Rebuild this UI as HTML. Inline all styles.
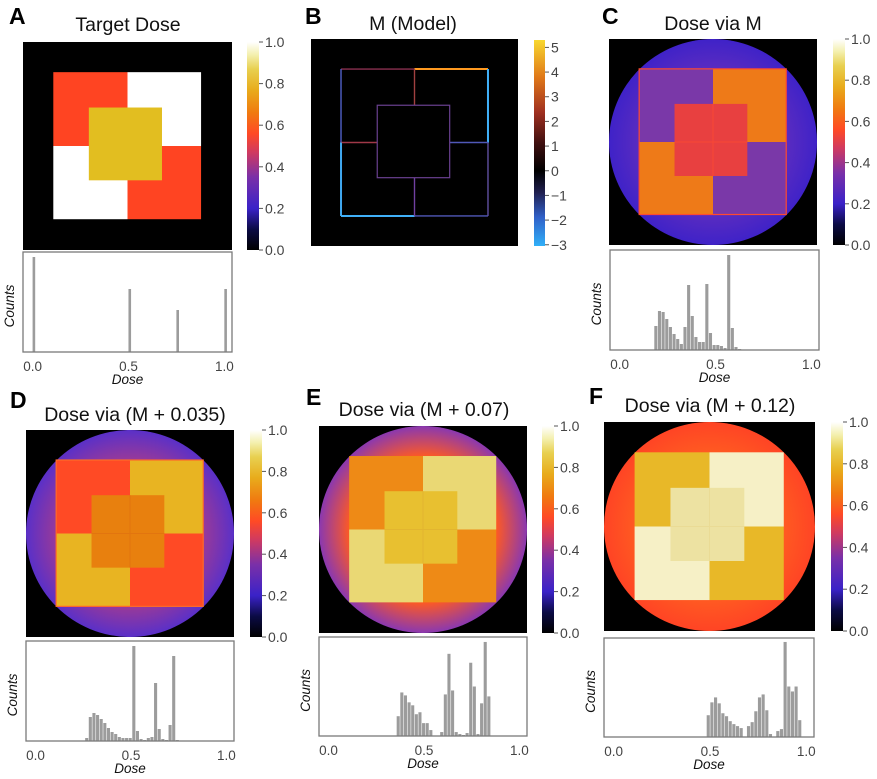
<!DOCTYPE html>
<html><head><meta charset="utf-8"><style>
html,body{margin:0;padding:0;background:#fff;}
svg{display:block;font-family:"Liberation Sans",sans-serif;}
</style></head>
<body>
<svg id="fig" width="877" height="779" viewBox="0 0 877 779" xmlns="http://www.w3.org/2000/svg">
<defs>
<linearGradient id="cmapDose" x1="0" y1="1" x2="0" y2="0">
<stop offset="0" stop-color="#000000"/><stop offset="0.1" stop-color="#0b0b45"/>
<stop offset="0.2" stop-color="#3a22c8"/><stop offset="0.35" stop-color="#7a30a8"/>
<stop offset="0.47" stop-color="#d03a60"/><stop offset="0.56" stop-color="#ff4a25"/>
<stop offset="0.66" stop-color="#f07a10"/><stop offset="0.77" stop-color="#e8ac1c"/>
<stop offset="0.87" stop-color="#e8d050"/><stop offset="0.94" stop-color="#f4f0b0"/>
<stop offset="1" stop-color="#ffffff"/></linearGradient>
<linearGradient id="cmapM" x1="0" y1="1" x2="0" y2="0">
<stop offset="0" stop-color="#30b0f8"/><stop offset="0.14" stop-color="#3060c8"/>
<stop offset="0.26" stop-color="#202050"/><stop offset="0.365" stop-color="#000000"/>
<stop offset="0.5" stop-color="#401010"/><stop offset="0.65" stop-color="#a03020"/>
<stop offset="0.82" stop-color="#e07818"/><stop offset="1" stop-color="#f8d830"/></linearGradient>
<radialGradient id="rimC" cx="0.5" cy="0.5" r="0.5"><stop offset="0.7" stop-color="#5a2cc0"/><stop offset="1" stop-color="#3f22c8"/></radialGradient>
<radialGradient id="rimD" cx="0.5" cy="0.5" r="0.5"><stop offset="0.7" stop-color="#9a3a98"/><stop offset="1" stop-color="#5a30c8"/></radialGradient>
<radialGradient id="rimE" cx="0.5" cy="0.5" r="0.5"><stop offset="0.7" stop-color="#ff5a22"/><stop offset="1" stop-color="#8a38b0"/></radialGradient>
<radialGradient id="rimF" cx="0.5" cy="0.5" r="0.5"><stop offset="0.7" stop-color="#ff5a22"/><stop offset="1" stop-color="#ff4424"/></radialGradient>
</defs>
</svg>
<script>
// ---------- data ----------
const binWidth = 0.019;
const histADoses = [0.0, 0.5, 0.75, 1.0];
const histACounts = [0.95, 0.63, 0.42, 0.63];
const histCStart = 0.181;
const histCCounts = [0.24,0.39,0.38,0.31,0.23,0.16,0.11,0.06,0.23,0.65,0.34,0.13,0.08,0.08,0.66,0.17,0.05,0.05,0.04,0.02,0.95,0.22,0.03,0.01];
const histDStart = 0.26;
const histDCounts = [0.03,0.24,0.28,0.26,0.22,0.18,0.13,0.09,0.07,0.04,0.03,0.03,0.03,0.95,0.10,0.02,0.01,0.03,0.04,0.58,0.12,0.02,0.01,0.16,0.85,0.01];
const histEStart = 0.357;
const histECounts = [0.20,0.44,0.41,0.34,0.31,0.22,0.24,0.13,0.13,0.06,0.00,0.00,0.04,0.42,0.83,0.46,0.04,0.02,0.01,0.03,0.74,0.50,0.02,0.33,0.95,0.40];
const histFStart = 0.483;
const histFCounts = [0.22,0.35,0.40,0.34,0.24,0.21,0.16,0.13,0.11,0.09,0.00,0.11,0.15,0.26,0.40,0.43,0.27,0.03,0.00,0.06,0.08,0.96,0.51,0.46,0.51,0.17];
const histTicks = [0.0, 0.5, 1.0];
const histTickLabels = ["0.0","0.5","1.0"];
const doseCbTicks = [0,0.2,0.4,0.6,0.8,1.0];
const doseCbLabels = ["0.0","0.2","0.4","0.6","0.8","1.0"];
const modelCbTicks = [-3,-2,-1,0,1,2,3,4,5];
const modelCbLabels = ["\u22123","\u22122","\u22121","0","1","2","3","4","5"];

const NS = "http://www.w3.org/2000/svg";
const svg = document.getElementById("fig");
function mk(tag, attrs, parent){
  const e = document.createElementNS(NS, tag);
  for (const k in attrs) e.setAttribute(k, attrs[k]);
  (parent||svg).appendChild(e);
  return e;
}
function txt(s, attrs, parent){ const t = mk("text", attrs, parent); t.textContent = s; return t; }

const XMIN = -0.05, XMAX = 1.04;
function drawHist(name, box, starts, counts, widthDose){
  const g = mk("g", {});
  
  
  const xs = d => box.x + (d - XMIN) / (XMAX - XMIN) * box.w;
  const ys = c => box.y + box.h - c * box.h;
  for (let i = 0; i < counts.length; i++){
    const d = starts[i];
    const x0 = xs(d), x1 = xs(d + widthDose);
    const r = mk("rect", {x: x0, y: ys(counts[i]), width: Math.max(2.4, (x1 - x0) * 0.85), height: box.y + box.h - ys(counts[i]), fill: "#9c9c9c"}, g);
    
    
  }
  const fr = mk("rect", {x: box.x, y: box.y, width: box.w, height: box.h, fill: "none", stroke: "#7a7a7a", "stroke-width": 1.3}, g);
  
  
  histTicks.forEach((t, i) => {
    const l = txt(histTickLabels[i], {x: xs(t), y: box.y + box.h + 19, "text-anchor": "middle", "font-size": 13.5, fill: "#444"}, g);
    
    
  });
  const xt = txt("Dose", {x: box.x + box.w/2, y: box.y + box.h + 32, "text-anchor": "middle", "font-size": 13.5, "font-style": "italic", fill: "#111"}, g);
  
  
  const cy = box.y + box.h/2 + 4;
  const yt = txt("Counts", {x: box.x - 9, y: cy, "text-anchor": "middle", "font-size": 13.5, "font-style": "italic", fill: "#111", transform: `rotate(-90 ${box.x - 9} ${cy})`}, g);
  
  
}
function seq(start, n){ const a = []; for (let i = 0; i < n; i++) a.push(start + i * binWidth); return a; }

function drawCb(name, cb, grad, ticks, labels, vmin, vmax){
  const g = mk("g", {});
  
  
  const r = mk("rect", {x: cb.x, y: cb.y, width: cb.w, height: cb.h, fill: `url(#${grad})`}, g);
  
  
  ticks.forEach((t, i) => {
    const y = cb.y + cb.h - (t - vmin) / (vmax - vmin) * cb.h;
    mk("line", {x1: cb.x + cb.w, x2: cb.x + cb.w + 4, y1: y, y2: y, stroke: "#555", "stroke-width": 1}, g);
    const l = txt(labels[i], {x: cb.x + cb.w + 6, y: y + 5, "font-size": 14, fill: "#444"}, g);
    
    
  });
}
function title(letter, lx, ly, s, tx, ty){
  const a = txt(letter, {x: lx, y: ly, "font-size": 23, "font-weight": "bold", fill: "#000"});
  
  
  const b = txt(s, {x: tx, y: ty, "text-anchor": "middle", "font-size": 19.5, fill: "#111"});
  
  
}
function quadImage(name, im, cols, rim, circle, centerStroke, outerStroke){
  const g = mk("g", {});
  
  
  mk("rect", {x: im.x, y: im.y, width: im.w, height: im.h, fill: "#000"}, g);
  if (circle){
    mk("ellipse", {cx: im.x + im.w/2, cy: im.y + im.h/2, rx: im.w/2, ry: im.h/2, fill: rim}, g);
  }
  const fx = f => im.x + f * im.w, fy = f => im.y + f * im.h;
  const a = 0.145, m = 0.5, b = 0.852, c0 = 0.315, c1 = 0.665;
  mk("rect", {x: fx(a), y: fy(a), width: fx(m)-fx(a), height: fy(m)-fy(a), fill: cols[0]}, g);
  mk("rect", {x: fx(m), y: fy(a), width: fx(b)-fx(m), height: fy(m)-fy(a), fill: cols[1]}, g);
  mk("rect", {x: fx(a), y: fy(m), width: fx(m)-fx(a), height: fy(b)-fy(m), fill: cols[2]}, g);
  mk("rect", {x: fx(m), y: fy(m), width: fx(b)-fx(m), height: fy(b)-fy(m), fill: cols[3]}, g);
  mk("rect", {x: fx(c0), y: fy(c0), width: fx(c1)-fx(c0), height: fy(c1)-fy(c0), fill: cols[4]}, g);
  if (centerStroke){
    mk("path", {d: `M${fx(m)} ${fy(c0)}V${fy(c1)}M${fx(c0)} ${fy(m)}H${fx(c1)}`, stroke: centerStroke, "stroke-width": 1, fill: "none", opacity: 0.7}, g);
  }
  if (outerStroke){
    mk("rect", {x: fx(a), y: fy(a), width: fx(b)-fx(a), height: fy(b)-fy(a), fill: "none", stroke: outerStroke, "stroke-width": 1.2}, g);
  }
}

// ---------- Panel A ----------
title("A", 9, 24, "Target Dose", 128, 31);
quadImage("target-dose-image", {x:23,y:42,w:209,h:208}, ["#ff4422","#ffffff","#ffffff","#ff4422","#e2be20"], null, false, null, null);
drawCb("colorbar-a", {x:247,y:42,w:12,h:208}, "cmapDose", doseCbTicks, doseCbLabels, 0, 1);
drawHist("histogram-a", {x:23,y:252,w:209,h:100}, histADoses, histACounts, 0.016);

// ---------- Panel B ----------
title("B", 305, 24, "M (Model)", 413, 30);
(function(){
  const im = {x:311,y:39,w:207,h:207};
  const g = mk("g", {});
  
  
  mk("rect", {x: im.x, y: im.y, width: im.w, height: im.h, fill: "#000"}, g);
  const fx = f => im.x + f * im.w, fy = f => im.y + f * im.h;
  const a = 0.145, m = 0.5, b = 0.855, c0 = 0.32, c1 = 0.67;
  const L = (x1,y1,x2,y2,col,w) => mk("line", {x1: fx(x1), y1: fy(y1), x2: fx(x2), y2: fy(y2), stroke: col, "stroke-width": w||1.4}, g);
  L(a,a,m,a,"#8a3050"); L(m,a,b,a,"#ff9a20",2); L(b,a,b,m,"#40b0f8",2);
  L(a,a,a,m,"#5060c8"); L(m,a,m,c0,"#a04040");
  L(a,m,c0,m,"#a03848"); L(a,m,a,b,"#40a8f0",2); L(a,b,m,b,"#40b0f8",2);
  L(m,b,b,b,"#5058b8"); L(b,m,b,b,"#6050a0"); L(c1,m,b,m,"#5058b8");
  L(m,c1,m,b,"#7040a0");
  mk("rect", {x: fx(c0), y: fy(c0), width: fx(c1)-fx(c0), height: fy(c1)-fy(c0), fill: "none", stroke: "#6a4090", "stroke-width": 1.2}, g);
})();
drawCb("colorbar-b", {x:534,y:40,w:11,h:206}, "cmapM", modelCbTicks, modelCbLabels, -3.05, 5.3);

// ---------- Panel C ----------
title("C", 602, 24, "Dose via M", 713, 30);
quadImage("dose-via-m-image", {x:609,y:39,w:208,h:206}, ["#7a38a8","#ee7a18","#ee7a18","#7a38a8","#e84040"], "url(#rimC)", true, "#ff4a30", "#ff4a30");
drawCb("colorbar-c", {x:833,y:39,w:12,h:206}, "cmapDose", doseCbTicks, doseCbLabels, 0, 1);
drawHist("histogram-c", {x:610,y:250,w:209,h:100}, seq(histCStart, histCCounts.length), histCCounts, binWidth);

// ---------- Panel D ----------
title("D", 10, 408, "Dose via (M + 0.035)", 135, 421);
quadImage("dose-035-image", {x:26,y:430,w:208,h:207}, ["#ff4a25","#e8b422","#e8b422","#ff4a25","#e8800e"], "url(#rimD)", true, "#e07010", "#ff6a28");
drawCb("colorbar-d", {x:250,y:430,w:12,h:207}, "cmapDose", doseCbTicks, doseCbLabels, 0, 1);
drawHist("histogram-d", {x:26,y:641,w:208,h:100}, seq(histDStart, histDCounts.length), histDCounts, binWidth);

// ---------- Panel E ----------
title("E", 306, 405, "Dose via (M + 0.07)", 424, 416);
quadImage("dose-07-image", {x:319,y:426,w:208,h:207}, ["#ee8a16","#ead874","#ead874","#ee8a16","#e8c030"], "url(#rimE)", true, "#e0b030", null);
drawCb("colorbar-e", {x:542,y:426,w:12,h:207}, "cmapDose", doseCbTicks, doseCbLabels, 0, 1);
drawHist("histogram-e", {x:319,y:637,w:208,h:99}, seq(histEStart, histECounts.length), histECounts, binWidth);

// ---------- Panel F ----------
title("F", 589, 404, "Dose via (M + 0.12)", 710, 412);
quadImage("dose-12-image", {x:604,y:422,w:211,h:209}, ["#e8b828","#f6f0c6","#f6f0c6","#e8b828","#ede2a2"], "url(#rimF)", true, "#e8d890", null);
drawCb("colorbar-f", {x:831,y:422,w:12,h:209}, "cmapDose", doseCbTicks, doseCbLabels, 0, 1);
drawHist("histogram-f", {x:604,y:638,w:210,h:99}, seq(histFStart, histFCounts.length), histFCounts, binWidth);
</script>
</body></html>
